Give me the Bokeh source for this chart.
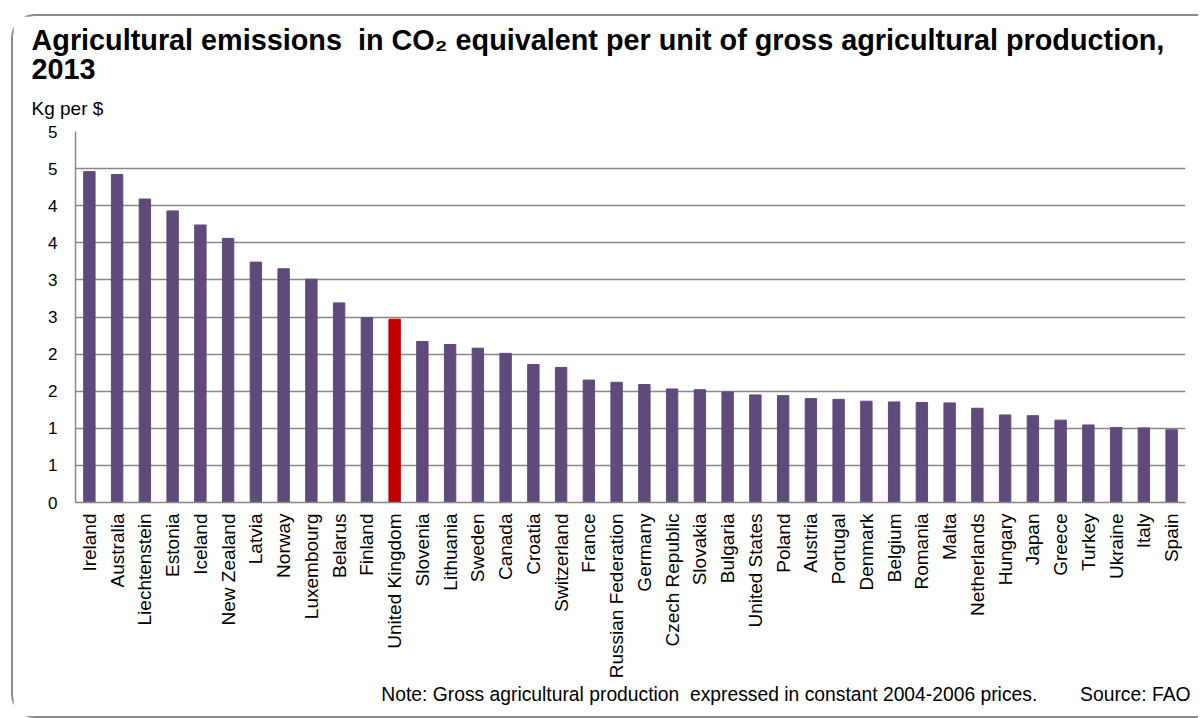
from bokeh.plotting import figure
from bokeh.models import (FactorRange, Range1d, FixedTicker, CustomJSTickFormatter,
                          ColumnDataSource, Title)
from bokeh.embed import file_html
from bokeh.resources import INLINE
import math

countries = ["Ireland", "Australia", "Liechtenstein", "Estonia", "Iceland", "New Zealand",
             "Latvia", "Norway", "Luxembourg", "Belarus", "Finland", "United Kingdom",
             "Slovenia", "Lithuania", "Sweden", "Canada", "Croatia", "Switzerland", "France",
             "Russian Federation", "Germany", "Czech Republic", "Slovakia", "Bulgaria",
             "United States", "Poland", "Austria", "Portugal", "Denmark", "Belgium", "Romania",
             "Malta", "Netherlands", "Hungary", "Japan", "Greece", "Turkey", "Ukraine",
             "Italy", "Spain"]
values = [4.46, 4.42, 4.09, 3.93, 3.74, 3.56, 3.24, 3.15, 3.01, 2.69, 2.49, 2.47,
          2.17, 2.13, 2.08, 2.01, 1.86, 1.82, 1.65, 1.62, 1.59, 1.53, 1.52, 1.49,
          1.45, 1.44, 1.40, 1.39, 1.365, 1.355, 1.347, 1.342, 1.27, 1.18, 1.17, 1.11,
          1.045, 1.01, 1.005, 0.98]
highlight = "United Kingdom"
y_ticks = [0, 0.5, 1, 1.5, 2, 2.5, 3, 3.5, 4, 4.5, 5]

title_line1 = "Agricultural emissions\u00a0 in CO\u2082 equivalent per unit of gross agricultural production,"
title_line2 = "2013"
unit_text = "Kg per $"
note_text = "Note: Gross agricultural production\u00a0 expressed in constant 2004-2006 prices."
source_text = "Source: FAO"

PURPLE = "#604A7B"
RED = "#C00000"
GRID = "#888888"
FONT = "Liberation Sans"

colors = [RED if c == highlight else PURPLE for c in countries]
src = ColumnDataSource(dict(country=countries, value=values, color=colors))

# the element uses border-box sizing: 2px borders are inside width/height
p = figure(width=1187, height=704, output_backend="svg", toolbar_location=None,
           x_range=FactorRange(*countries, range_padding=0),
           y_range=Range1d(0, 5),
           min_border_left=62, min_border_right=15, min_border_top=115, min_border_bottom=218)
p.styles = {"margin-left": "11px", "margin-top": "14px",
            "border-left": "2px solid #8c8c8c", "border-top": "2px solid #8c8c8c",
            "border-bottom": "2px solid #8c8c8c",
            "border-radius": "24px 0 0 24px"}
p.outline_line_color = None
p.background_fill_color = "white"
p.border_fill_color = "white"

p.vbar(x="country", top="value", width=0.41, source=src, fill_color="color",
       line_color="color")

p.xgrid.grid_line_color = None
p.ygrid.grid_line_color = GRID
p.ygrid.grid_line_width = 1.5
p.yaxis.ticker = FixedTicker(ticks=y_ticks)
p.yaxis.formatter = CustomJSTickFormatter(code="return Math.round(tick).toFixed(0);")
p.yaxis.minor_tick_line_color = None
p.yaxis.major_tick_line_color = None
p.yaxis.major_tick_out = 0
p.yaxis.major_tick_in = 0
p.yaxis.axis_line_color = GRID
p.yaxis.axis_line_width = 1.5
p.yaxis.major_label_text_font = FONT
p.yaxis.major_label_text_font_size = "17px"
p.yaxis.major_label_text_color = "black"
p.yaxis.major_label_standoff = 18

p.xaxis.major_label_orientation = math.pi / 2
p.xaxis.major_tick_line_color = None
p.xaxis.minor_tick_line_color = None
p.xaxis.major_tick_out = 0
p.xaxis.major_tick_in = 0
p.xaxis.axis_line_color = GRID
p.xaxis.axis_line_width = 1.5
p.xaxis.major_label_text_font = FONT
p.xaxis.major_label_text_font_size = "19px"
p.xaxis.major_label_text_color = "black"
p.xaxis.major_label_standoff = 11

def add_title(text, loc, size, bold=False, offset=0, align="left", standoff=0,
              valign="bottom", line_height=1.0):
    p.add_layout(Title(text=text, text_font=FONT, text_font_size=size,
                       text_font_style="bold" if bold else "normal",
                       text_color="black", align=align, offset=offset,
                       standoff=standoff, vertical_align=valign,
                       text_line_height=line_height), loc)

# above: first added is closest to the plot
add_title(unit_text, "above", "19px", offset=-44, standoff=21, valign="top")
add_title(title_line1 + "\n" + title_line2, "above", "28.8px", bold=True, offset=-44,
          standoff=0, valign="top", line_height=0.93)

add_title(note_text + "\u00a0" * 8 + source_text, "below", "19.3px", align="right",
          offset=-5, standoff=0)

open("out.html", "w").write(file_html(p, INLINE))
